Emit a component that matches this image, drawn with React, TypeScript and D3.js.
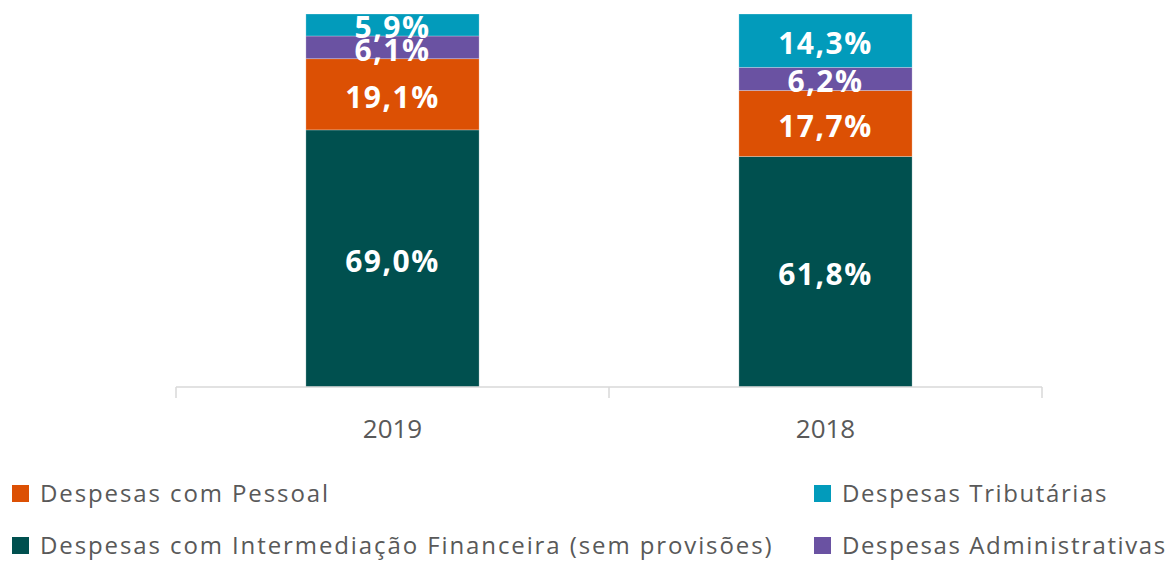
import React from "react";
import * as d3 from "d3";

const categories = ["2019", "2018"];
const seriesNames = [
  "Despesas com Intermediação Financeira (sem provisões)",
  "Despesas com Pessoal",
  "Despesas Administrativas",
  "Despesas Tributárias",
];
const intermediacao = [69.0, 61.8];
const pessoal = [19.1, 17.7];
const administrativas = [6.1, 6.2];
const tributarias = [5.9, 14.3];
const valueLabels = [
  ["69,0%", "61,8%"],
  ["19,1%", "17,7%"],
  ["6,1%", "6,2%"],
  ["5,9%", "14,3%"],
];
const colors = ["#00504F", "#DC5004", "#6A52A2", "#029BBB"];

const W = 1174;
const H = 561;

export default function App() {
  const seriesValues = [intermediacao, pessoal, administrativas, tributarias];
  const rows = categories.map((c, i) => {
    const r: any = { cat: c };
    const total = d3.sum(seriesValues, (s) => s[i]);
    seriesValues.forEach((s, k) => (r["s" + k] = (s[i] / total) * 100));
    return r;
  });
  const keys = seriesValues.map((_, k) => "s" + k);
  const stacked = d3.stack<any>().keys(keys)(rows);

  const x = d3
    .scaleBand<string>()
    .domain(categories)
    .range([176, 1042])
    .paddingInner(0.6)
    .paddingOuter(0.3);
  const xAxis = d3.scaleBand<string>().domain(categories).range([176, 1042]);
  const y = d3.scaleLinear().domain([0, 100]).range([387, 14]);

  const font = "'Open Sans', sans-serif";

  const legendItems = [
    { k: 1, x: 12, y: 502, ls: 1.9 },
    { k: 0, x: 12, y: 554, ls: 1.9 },
    { k: 3, x: 814, y: 502, ls: 1.6 },
    { k: 2, x: 814, y: 554, ls: 1.6 },
  ];

  return (
    <svg
      width={W}
      height={H}
      style={{ position: "absolute", left: 0, top: 0, background: "#fff" }}
      fontFamily={font}
    >
      {stacked.map((layer, k) => (
        <g key={k}>
          {layer.map((d, i) => (
            <rect
              key={i}
              x={x(categories[i])}
              y={y(d[1])}
              width={x.bandwidth()}
              height={y(d[0]) - y(d[1])}
              fill={colors[k]}
              stroke="#ffffff"
              strokeOpacity={0.35}
              strokeWidth={0.75}
            />
          ))}
        </g>
      ))}
      {stacked.map((layer, k) => (
        <g key={"l" + k}>
          {layer.map((d, i) => (
            <text
              key={i}
              x={(x(categories[i]) as number) + x.bandwidth() / 2}
              y={(y(d[0]) + y(d[1])) / 2}
              dy="0.44em"
              textAnchor="middle"
              fill="#ffffff"
              fontWeight={700}
              fontSize={30}
              letterSpacing={1.5}
            >
              {valueLabels[k][i]}
            </text>
          ))}
        </g>
      ))}
      <line x1={176} x2={1042} y1={387} y2={387} stroke="#d9d9d9" strokeWidth={1.5} />
      {[...categories.map((c) => xAxis(c) as number), 1042].map((t, i) => (
        <line key={i} x1={t} x2={t} y1={387} y2={398} stroke="#d9d9d9" strokeWidth={1.5} />
      ))}
      {categories.map((c) => (
        <text
          key={c}
          x={(xAxis(c) as number) + xAxis.bandwidth() / 2}
          y={438}
          textAnchor="middle"
          fill="#595959"
          fontSize={26}
        >
          {c}
        </text>
      ))}
      {legendItems.map((it) => (
        <g key={it.k}>
          <rect x={it.x} y={it.y - 17} width={17} height={17} fill={colors[it.k]} />
          <text x={it.x + 28} y={it.y} fill="#595959" fontSize={24} letterSpacing={it.ls}>
            {seriesNames[it.k]}
          </text>
        </g>
      ))}
    </svg>
  );
}
